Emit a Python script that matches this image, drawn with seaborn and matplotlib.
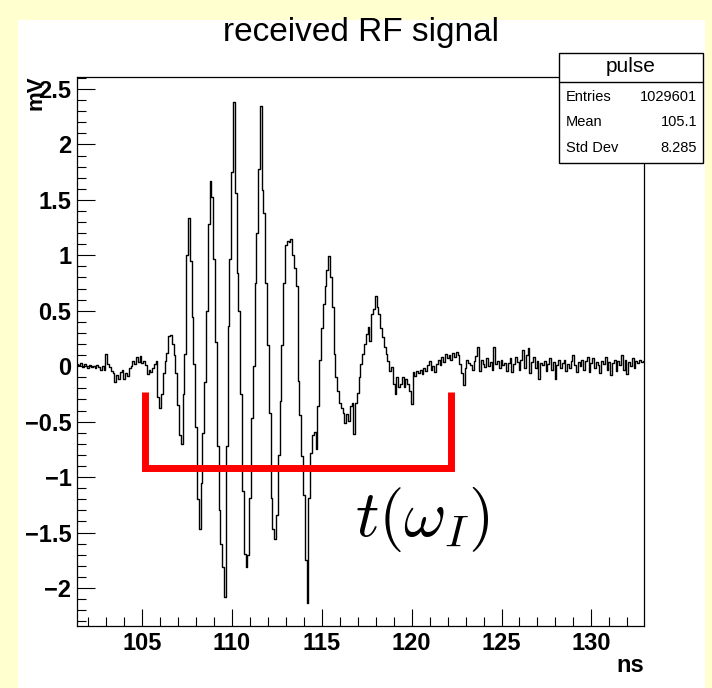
import numpy as np
import matplotlib
matplotlib.use("Agg")
import matplotlib.pyplot as plt
import seaborn as sns
from matplotlib.ticker import MultipleLocator, FuncFormatter
from matplotlib.patches import Rectangle
from matplotlib.lines import Line2D

# --- datos (bins de 0.1 ns) ---
t_start = 101.4   # ns, centro del primer bin
bin_ns = 0.1
pulse_mv = [
    0.02, 0.01, 0.03, -0.01, 0.02, 0.00, -0.02, 0.01, -0.01, 0.00,
    -0.02, 0.01, -0.01, -0.03, 0.00, -0.03, 0.11, 0.02, -0.01, -0.04,
    -0.06, -0.14, -0.08, -0.12, -0.05, -0.03, -0.12, -0.06, -0.09, -0.02,
    0.00, 0.05, 0.02, 0.08, 0.04, 0.09, 0.03, 0.05, 0.01, -0.07,
    -0.03, -0.05, -0.02, 0.02, 0.05, -0.28, -0.38, -0.25, -0.06, 0.05,
    0.12, 0.27, 0.28, 0.20, 0.10, -0.06, -0.35, -0.62, -0.70, -0.25,
    0.11, 1.00, 1.34, 0.95, 0.44, 0.02, -0.55, -1.20, -1.47, -1.05,
    -0.60, -0.14, 0.50, 1.28, 1.67, 1.53, 0.97, 0.22, -0.72, -1.30,
    -1.60, -1.81, -2.08, -0.72, 0.36, 0.97, 1.75, 2.38, 1.56, 0.84,
    0.50, -0.25, -1.13, -1.69, -1.81, -1.70, -1.19, -0.47, 0.00, 0.75,
    1.20, 1.78, 2.35, 1.59, 1.38, 0.75, 0.19, -0.42, -1.19, -1.47,
    -1.56, -1.34, -0.80, -0.31, 0.19, 0.75, 1.09, 1.13, 1.12, 1.15,
    1.00, 0.89, 0.72, -0.13, -0.44, -0.81, -1.16, -1.75, -2.14, -1.19,
    -0.78, -0.62, -0.59, -0.75, -0.36, 0.06, 0.34, 0.56, 0.72, 0.87,
    0.99, 0.80, 0.53, 0.11, -0.10, -0.22, -0.33, -0.38, -0.42, -0.51,
    -0.43, -0.49, -0.36, -0.33, -0.61, -0.33, -0.24, -0.10, 0.02, 0.11,
    0.20, 0.29, 0.35, 0.23, 0.47, 0.52, 0.63, 0.53, 0.47, 0.34,
    0.26, 0.17, 0.11, 0.05, -0.04, -0.01, -0.16, -0.25, -0.10, -0.19,
    -0.16, -0.10, -0.19, -0.12, -0.16, -0.22, -0.34, -0.05, -0.09, -0.04,
    -0.06, -0.03, -0.07, -0.02, -0.04, 0.01, 0.05, -0.03, 0.00, -0.05,
    0.02, 0.06, 0.01, 0.08, 0.04, 0.11, 0.07, 0.10, 0.06, 0.12,
    0.08, 0.13, 0.10, 0.02, -0.06, -0.17, -0.02, 0.06, 0.03, 0.01,
    -0.03, 0.05, 0.09, 0.17, -0.04, 0.06, 0.02, -0.01, 0.07, 0.00,
    0.04, -0.03, 0.17, 0.02, 0.05, -0.02, 0.06, 0.01, 0.03, -0.04,
    0.03, 0.07, -0.05, 0.02, 0.08, 0.04, -0.03, 0.06, 0.15, -0.02,
    0.10, 0.16, -0.06, 0.04, 0.08, -0.02, 0.05, -0.12, 0.03, 0.01,
    0.05, -0.04, 0.02, 0.07, -0.03, 0.04, -0.12, 0.01, 0.06, -0.02,
    0.03, 0.06, -0.04, 0.02, -0.02, 0.05, 0.10, 0.01, -0.05, 0.04,
    0.00, 0.06, -0.03, 0.05, 0.08, -0.05, 0.03, 0.07, -0.02, 0.04,
    0.01, -0.06, 0.05, 0.02, 0.08, -0.03, 0.04, -0.08, 0.03, 0.06,
    -0.04, 0.05, 0.01, 0.10, -0.03, 0.06, -0.07, 0.04, 0.00, 0.07,
    -0.02, 0.05, 0.03, 0.06, 0.04, 0.05,
]

stats_labels = ["Entries", "Mean", "Std Dev"]
stats_values = ["1029601", "105.1", "8.285"]

# corchete rojo t(omega_I)
bracket_ns = [105.15, 105.15, 122.2, 122.2]
bracket_mv = [-0.23, -0.92, -0.92, -0.23]

t_ns = t_start + bin_ns * np.arange(len(pulse_mv))

# --- estilo ---
sns.set_theme(style="white")
plt.rcParams["font.family"] = ["Liberation Sans", "DejaVu Sans"]
plt.rcParams["mathtext.fontset"] = "cm"
plt.rcParams["text.color"] = "black"
plt.rcParams["xtick.color"] = "black"
plt.rcParams["ytick.color"] = "black"

W, H = 712, 688
fig = plt.figure(figsize=(W / 100, H / 100), dpi=100, facecolor="#ffffd0")
fig.add_artist(Rectangle((18 / W, 0), (705 - 18) / W, 1 - 20 / H,
                         transform=fig.transFigure, facecolor="white",
                         edgecolor="none", zorder=-10))

ax = fig.add_axes([77 / W, 1 - 626 / H, (644 - 77) / W, (626 - 77) / H])
sns.lineplot(x=t_ns, y=pulse_mv, drawstyle="steps-mid", color="black",
             lw=1.0, ax=ax)
ax.plot(bracket_ns, bracket_mv, color="red", lw=5, solid_joinstyle="miter",
        solid_capstyle="butt", zorder=4)
ax.text(120.6, -1.38, r"$t(\omega_I)$", fontsize=47, ha="center", va="center")

ax.set_xlim(101.37, 132.93)
ax.set_ylim(-2.343, 2.608)
ax.set_xlabel("")
ax.set_ylabel("")

fmt = FuncFormatter(lambda v, p: f"{v:g}".replace("-", "\u2212"))
ax.xaxis.set_major_locator(MultipleLocator(5))
ax.xaxis.set_minor_locator(MultipleLocator(1))
ax.yaxis.set_major_locator(MultipleLocator(0.5))
ax.yaxis.set_minor_locator(MultipleLocator(0.1))
ax.xaxis.set_major_formatter(fmt)
ax.yaxis.set_major_formatter(fmt)
ax.tick_params(which="both", direction="in", bottom=True, left=True,
               top=False, right=False, width=0.8, color="black",
               labelcolor="black", labelsize=17, pad=4)
ax.tick_params(axis="y", which="major", length=13)
ax.tick_params(axis="y", which="minor", length=6.5)
ax.tick_params(axis="x", which="major", length=12.5)
ax.tick_params(axis="x", which="minor", length=6.5)
for lbl in ax.get_xticklabels() + ax.get_yticklabels():
    lbl.set_fontweight("bold")
for sp in ax.spines.values():
    sp.set_color("black")
    sp.set_linewidth(0.9)

# titulo y ejes
fig.text(361 / W, 1 - 33 / H, "received RF signal", ha="center", va="center",
         fontsize=24)
fig.text(36 / W, 1 - 75 / H, "mV", rotation=90, ha="center", va="top",
         fontsize=16, fontweight="bold")
fig.text(644 / W, 1 - 665 / H, "ns", ha="right", va="center", fontsize=17,
         fontweight="bold")

# caja de estadisticas
fig.add_artist(Rectangle((559 / W, 1 - 163 / H), 144 / W, 110 / H,
                         transform=fig.transFigure, facecolor="white",
                         edgecolor="black", lw=1, zorder=5))
fig.add_artist(Line2D([559 / W, 703 / W], [1 - 82 / H] * 2, color="black",
                      lw=1, zorder=6))
fig.text(631 / W, 1 - 67 / H, "pulse", ha="center", va="center", fontsize=15,
         zorder=7)
for i, (lab, val) in enumerate(zip(stats_labels, stats_values)):
    y = 1 - (97 + 25.5 * i) / H
    fig.text(566 / W, y, lab, ha="left", va="center", fontsize=10.5, zorder=7)
    fig.text(697 / W, y, val, ha="right", va="center", fontsize=10.5, zorder=7)

fig.savefig("out.png", dpi=100, facecolor=fig.get_facecolor())
